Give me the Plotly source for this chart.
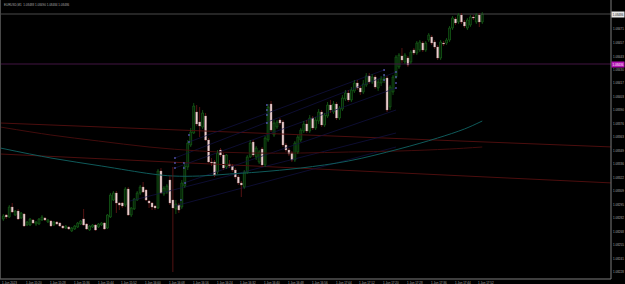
import plotly.graph_objects as go

# ---------------- data ----------------
bars = list(range(162))

open_ = [1.08281,1.08285,1.08283,1.08293,1.08285,1.08289,1.08282,1.08286,1.08275,1.08275,
1.08280,1.08276,1.08276,1.08280,1.08282,1.08278,1.08279,1.08275,1.08278,1.08277,
1.08274,1.08272,1.08273,1.08269,1.08271,1.08273,1.08276,1.08281,1.08276,1.08270,
1.08273,1.08275,1.08273,1.08275,1.08277,1.08272,1.08283,1.08300,1.08307,1.08297,
1.08297,1.08295,1.08311,1.08285,1.08291,1.08300,1.08307,1.08313,1.08310,1.08299,
1.08297,1.08294,1.08292,1.08329,1.08306,1.08308,1.08320,1.08300,1.08291,1.08295,
1.08293,1.08314,1.08333,1.08355,1.08367,1.08388,1.08378,1.08373,1.08384,1.08360,
1.08338,1.08338,1.08328,1.08350,1.08345,1.08333,1.08336,1.08334,1.08330,1.08323,
1.08317,1.08313,1.08328,1.08343,1.08358,1.08343,1.08338,1.08351,1.08335,1.08360,
1.08396,1.08365,1.08373,1.08380,1.08378,1.08355,1.08350,1.08347,1.08340,1.08348,
1.08360,1.08369,1.08376,1.08369,1.08382,1.08372,1.08379,1.08388,1.08375,1.08384,
1.08395,1.08388,1.08396,1.08382,1.08391,1.08401,1.08407,1.08400,1.08409,1.08417,
1.08412,1.08408,1.08415,1.08424,1.08418,1.08423,1.08412,1.08417,1.08420,1.08422,
1.08393,1.08408,1.08423,1.08433,1.08444,1.08438,1.08442,1.08438,1.08450,1.08447,
1.08450,1.08457,1.08450,1.08460,1.08463,1.08458,1.08453,1.08442,1.08457,1.08457,
1.08460,1.08472,1.08481,1.08478,1.08485,1.08478,1.08472,1.08475,1.08483,1.08478,
1.08485,1.08478]

high = [1.08286,1.08286,1.08295,1.08297,1.08290,1.08291,1.08288,1.08287,1.08279,1.08282,
1.08281,1.08279,1.08282,1.08285,1.08283,1.08281,1.08280,1.08279,1.08279,1.08278,
1.08275,1.08275,1.08274,1.08273,1.08275,1.08278,1.08280,1.08291,1.08277,1.08275,
1.08276,1.08276,1.08277,1.08278,1.08278,1.08286,1.08307,1.08309,1.08309,1.08298,
1.08298,1.08313,1.08313,1.08293,1.08302,1.08309,1.08315,1.08318,1.08311,1.08300,
1.08298,1.08295,1.08331,1.08332,1.08314,1.08316,1.08324,1.08333,1.08300,1.08297,
1.08320,1.08337,1.08360,1.08372,1.08397,1.08395,1.08393,1.08390,1.08387,1.08362,
1.08342,1.08340,1.08350,1.08352,1.08347,1.08346,1.08340,1.08336,1.08332,1.08325,
1.08319,1.08330,1.08345,1.08360,1.08360,1.08354,1.08350,1.08353,1.08364,1.08396,
1.08399,1.08380,1.08380,1.08382,1.08380,1.08357,1.08352,1.08349,1.08359,1.08365,
1.08372,1.08379,1.08380,1.08385,1.08384,1.08383,1.08391,1.08390,1.08387,1.08398,
1.08400,1.08399,1.08398,1.08394,1.08405,1.08410,1.08410,1.08413,1.08420,1.08420,
1.08414,1.08420,1.08427,1.08427,1.08426,1.08425,1.08421,1.08424,1.08426,1.08424,
1.08415,1.08425,1.08445,1.08447,1.08452,1.08447,1.08444,1.08450,1.08452,1.08459,
1.08460,1.08459,1.08459,1.08467,1.08465,1.08460,1.08455,1.08460,1.08459,1.08462,
1.08474,1.08484,1.08483,1.08487,1.08487,1.08480,1.08482,1.08485,1.08485,1.08487,
1.08487,1.08488]

low = [1.08279,1.08281,1.08282,1.08287,1.08284,1.08280,1.08281,1.08273,1.08274,1.08274,
1.08276,1.08274,1.08275,1.08279,1.08279,1.08277,1.08273,1.08274,1.08275,1.08273,
1.08271,1.08271,1.08270,1.08268,1.08270,1.08272,1.08275,1.08274,1.08270,1.08269,
1.08272,1.08269,1.08272,1.08274,1.08270,1.08271,1.08282,1.08299,1.08287,1.08290,
1.08292,1.08293,1.08284,1.08283,1.08290,1.08299,1.08305,1.08307,1.08299,1.08292,
1.08290,1.08290,1.08291,1.08306,1.08304,1.08306,1.08295,1.08228,1.08286,1.08287,
1.08291,1.08312,1.08330,1.08353,1.08366,1.08374,1.08363,1.08371,1.08359,1.08337,
1.08334,1.08323,1.08326,1.08343,1.08330,1.08331,1.08332,1.08328,1.08321,1.08315,
1.08303,1.08311,1.08326,1.08342,1.08343,1.08340,1.08336,1.08333,1.08333,1.08358,
1.08368,1.08363,1.08371,1.08375,1.08353,1.08348,1.08344,1.08338,1.08338,1.08346,
1.08358,1.08367,1.08367,1.08367,1.08370,1.08370,1.08376,1.08373,1.08373,1.08382,
1.08387,1.08386,1.08380,1.08380,1.08389,1.08399,1.08398,1.08398,1.08407,1.08410,
1.08405,1.08406,1.08413,1.08416,1.08416,1.08411,1.08409,1.08414,1.08417,1.08388,
1.08390,1.08405,1.08421,1.08431,1.08437,1.08436,1.08433,1.08436,1.08445,1.08445,
1.08448,1.08448,1.08448,1.08458,1.08455,1.08451,1.08440,1.08440,1.08454,1.08455,
1.08458,1.08470,1.08475,1.08476,1.08476,1.08472,1.08470,1.08473,1.08480,1.08476,
1.08473,1.08476]

close = [1.08284,1.08283,1.08293,1.08288,1.08289,1.08281,1.08287,1.08274,1.08278,1.08281,
1.08277,1.08278,1.08281,1.08283,1.08280,1.08280,1.08274,1.08278,1.08276,1.08274,
1.08272,1.08274,1.08271,1.08272,1.08274,1.08277,1.08279,1.08275,1.08271,1.08274,
1.08275,1.08270,1.08276,1.08277,1.08271,1.08285,1.08305,1.08307,1.08297,1.08295,
1.08294,1.08311,1.08285,1.08292,1.08301,1.08307,1.08313,1.08308,1.08300,1.08297,
1.08293,1.08292,1.08329,1.08307,1.08312,1.08314,1.08297,1.08292,1.08296,1.08290,
1.08317,1.08334,1.08357,1.08368,1.08394,1.08376,1.08374,1.08387,1.08360,1.08338,
1.08337,1.08325,1.08347,1.08345,1.08332,1.08345,1.08334,1.08330,1.08323,1.08317,
1.08315,1.08328,1.08343,1.08357,1.08345,1.08352,1.08348,1.08335,1.08362,1.08393,
1.08370,1.08377,1.08378,1.08377,1.08355,1.08350,1.08346,1.08340,1.08357,1.08363,
1.08370,1.08376,1.08369,1.08382,1.08372,1.08380,1.08388,1.08375,1.08385,1.08395,
1.08390,1.08396,1.08382,1.08392,1.08402,1.08407,1.08400,1.08410,1.08417,1.08412,
1.08408,1.08416,1.08424,1.08418,1.08423,1.08413,1.08418,1.08421,1.08422,1.08390,
1.08413,1.08423,1.08443,1.08445,1.08440,1.08445,1.08435,1.08448,1.08447,1.08457,
1.08458,1.08450,1.08457,1.08465,1.08457,1.08453,1.08442,1.08458,1.08456,1.08460,
1.08472,1.08482,1.08477,1.08485,1.08478,1.08474,1.08480,1.08483,1.08482,1.08485,
1.08478,1.08486]

# moving averages (sampled at bars)
ma_teal_x = [-1, 16, 33, 50, 57, 66, 76, 86, 100, 116, 133, 146, 155, 161]
ma_teal_y = [1.08352, 1.08342, 1.08334, 1.08326, 1.08324, 1.08324, 1.08326, 1.08328,
             1.08332, 1.08339, 1.08351, 1.08362, 1.08371, 1.08379]
ma_red_x = [-1, 16, 32, 49, 66, 83, 100, 116, 133, 150, 161]
ma_red_y = [1.08373, 1.08365, 1.08359, 1.08353, 1.08349, 1.08347, 1.08347, 1.08348,
            1.08349, 1.08351, 1.08353]

# red trend lines (bar, price anchors)
trend_red = [((-1, 1.08377), (205, 1.08353)),
             ((-1, 1.08346), (205, 1.08317))]
# navy trend lines
trend_blue = [((42.6, 1.08299), (132, 1.08367)),
              ((57.7, 1.08294), (132, 1.08353)),
              ((57.7, 1.08332), (132, 1.08412)),
              ((57.7, 1.08342), (132, 1.08428)),
              ((62.4, 1.08358), (128, 1.08430)),
              ((60.7, 1.08317), (132, 1.08390))]
# anchor squares
dot_x = [57.7, 57.7, 57.7, 60.7, 60.7, 61.1, 62.4, 62.4, 59.7, 88.6, 88.6, 88.6, 88.6,
         128, 128, 128, 132, 132, 132, 132]
dot_y = [1.08342, 1.08337, 1.08332, 1.08337, 1.08332, 1.08317, 1.08365, 1.08358, 1.08300,
         1.08395, 1.08390, 1.08385, 1.08377, 1.08430, 1.08425, 1.08420, 1.08428, 1.08423,
         1.08417, 1.08412]

bid_price = 1.08486
alert_price = 1.08436

price_ticks = [1.08471, 1.08457, 1.08443, 1.08430, 1.08417, 1.08403, 1.08390, 1.08376,
               1.08363, 1.08349, 1.08336, 1.08322, 1.08309, 1.08295, 1.08282, 1.08268,
               1.08255, 1.08241, 1.08228]
label_bars = [0, 8, 16, 24, 32, 40, 48, 56, 64, 72, 80, 88, 96, 104, 112, 120, 128, 136, 144, 152, 160]
time_labels = ["1 Jun 2023", "1 Jun 15:20", "1 Jun 15:28", "1 Jun 15:36", "1 Jun 15:44",
               "1 Jun 15:52", "1 Jun 16:00", "1 Jun 16:08", "1 Jun 16:16", "1 Jun 16:24",
               "1 Jun 16:32", "1 Jun 16:40", "1 Jun 16:48", "1 Jun 16:56", "1 Jun 17:04",
               "1 Jun 17:12", "1 Jun 17:20", "1 Jun 17:28", "1 Jun 17:36", "1 Jun 17:44",
               "1 Jun 17:52"]
title_text = "EURUSD,M1  1.08488 1.08490 1.08484 1.08486"

# ---------------- figure ----------------
FONT = "Liberation Sans, Arial, sans-serif"
TXT = "#a8a8a8"
fig = go.Figure()

XMIN, XMAX = -0.773, 204.27
YMIN, YMAX = 1.08221, 1.08500

# horizontal lines (bid + alert)
fig.add_trace(go.Scatter(x=[XMIN, XMAX], y=[bid_price, bid_price], mode="lines",
                         line=dict(color="#4a4a4a", width=1), hoverinfo="skip"))
fig.add_trace(go.Scatter(x=[XMIN, XMAX], y=[alert_price, alert_price], mode="lines",
                         line=dict(color="#431443", width=1), hoverinfo="skip"))

# trend lines
for (p0, p1) in trend_red:
    fig.add_trace(go.Scatter(x=[p0[0], p1[0]], y=[p0[1], p1[1]], mode="lines",
                             line=dict(color="#4c0e0e", width=1), hoverinfo="skip"))
for (p0, p1) in trend_blue:
    fig.add_trace(go.Scatter(x=[p0[0], p1[0]], y=[p0[1], p1[1]], mode="lines",
                             line=dict(color="#121246", width=0.7), hoverinfo="skip"))

fig.add_trace(go.Scatter(x=ma_red_x, y=ma_red_y, mode="lines", line_shape="spline",
                         line=dict(color="#420c0c", width=1), hoverinfo="skip"))
fig.add_trace(go.Scatter(x=ma_teal_x, y=ma_teal_y, mode="lines", line_shape="spline",
                         line=dict(color="#0f5a5a", width=1), hoverinfo="skip"))

# candles
bull = [i for i in bars if close[i] >= open_[i]]
bear = [i for i in bars if close[i] < open_[i]]

def wick_xy(idx):
    xs, ys = [], []
    for i in idx:
        top = max(open_[i], close[i]); bot = min(open_[i], close[i])
        xs += [i, i, None, i, i, None]
        ys += [high[i], top, None, bot, low[i], None]
    return xs, ys

for idx, col in ((bull, "#175e17"), (bear, "#6a1818")):
    wx, wy = wick_xy(idx)
    fig.add_trace(go.Scatter(x=wx, y=wy, mode="lines", line=dict(color=col, width=0.8),
                             hoverinfo="skip", connectgaps=False))

def body(idx):
    base = [min(open_[i], close[i]) for i in idx]
    h = [max(abs(close[i] - open_[i]), 0.000004) for i in idx]
    return base, h

b_base, b_h = body(bull)
fig.add_trace(go.Bar(x=bull, y=b_h, base=b_base, width=0.62,
                     marker=dict(color="#041404", line=dict(color="#1c7a20", width=0.6))))
s_base, s_h = body(bear)
fig.add_trace(go.Bar(x=bear, y=s_h, base=s_base, width=0.62,
                     marker=dict(color="#efd6d6", line=dict(color="#c89a9a", width=0.4))))

fig.add_trace(go.Scatter(x=dot_x, y=dot_y, mode="markers",
                         marker=dict(symbol="square", size=1.6, color="#5c5cc0"),
                         hoverinfo="skip"))

annotations = []
for p in price_ticks:
    annotations.append(dict(x=1, xref="paper", y=p, yref="y", xanchor="left", yanchor="middle",
                            text=f"{p:.5f}", showarrow=False, xshift=0,
                            font=dict(size=3, color=TXT, family=FONT)))
annotations.append(dict(x=1, xref="paper", y=bid_price, yref="y", xanchor="left",
                        yanchor="middle", text=f"{bid_price:.5f}", showarrow=False,
                        bgcolor="#e6e6e6", borderpad=0.5,
                        font=dict(size=3, color="#222222", family=FONT)))
annotations.append(dict(x=1, xref="paper", y=alert_price, yref="y", xanchor="left",
                        yanchor="middle", text=f"{alert_price:.5f}", showarrow=False,
                        bgcolor="#b514b5", borderpad=0.5,
                        font=dict(size=3, color="#ffffff", family=FONT)))
for b, t in zip(label_bars, time_labels):
    annotations.append(dict(x=b, xref="x", y=0, yref="paper", xanchor="left", yanchor="top",
                            text=t, showarrow=False, xshift=-3,
                            font=dict(size=3, color=TXT, family=FONT)))
annotations.append(dict(x=0, xref="paper", y=1, yref="paper", xanchor="left", yanchor="top",
                        text=title_text, showarrow=False, xshift=1, yshift=-1,
                        font=dict(size=3, color=TXT, family=FONT)))

shapes = [
    dict(type="line", xref="paper", yref="paper", x0=1, x1=1, y0=0, y1=1,
         line=dict(color="#7c7c7c", width=1)),
    dict(type="line", xref="paper", yref="paper", x0=-0.002, x1=1, y0=0, y1=0,
         line=dict(color="#7c7c7c", width=1)),
    dict(type="line", xref="paper", yref="paper", x0=-0.0012, x1=-0.0012, y0=0, y1=1,
         line=dict(color="#5e5e5e", width=1)),
]

fig.update_layout(
    width=625, height=284,
    margin=dict(l=1, r=14, t=0, b=5, pad=0),
    paper_bgcolor="black", plot_bgcolor="black",
    showlegend=False, barmode="overlay",
    xaxis=dict(range=[XMIN, XMAX], visible=False, fixedrange=True),
    yaxis=dict(range=[YMIN, YMAX], visible=False, fixedrange=True),
    annotations=annotations, shapes=shapes,
)

fig.write_html("out.html")
